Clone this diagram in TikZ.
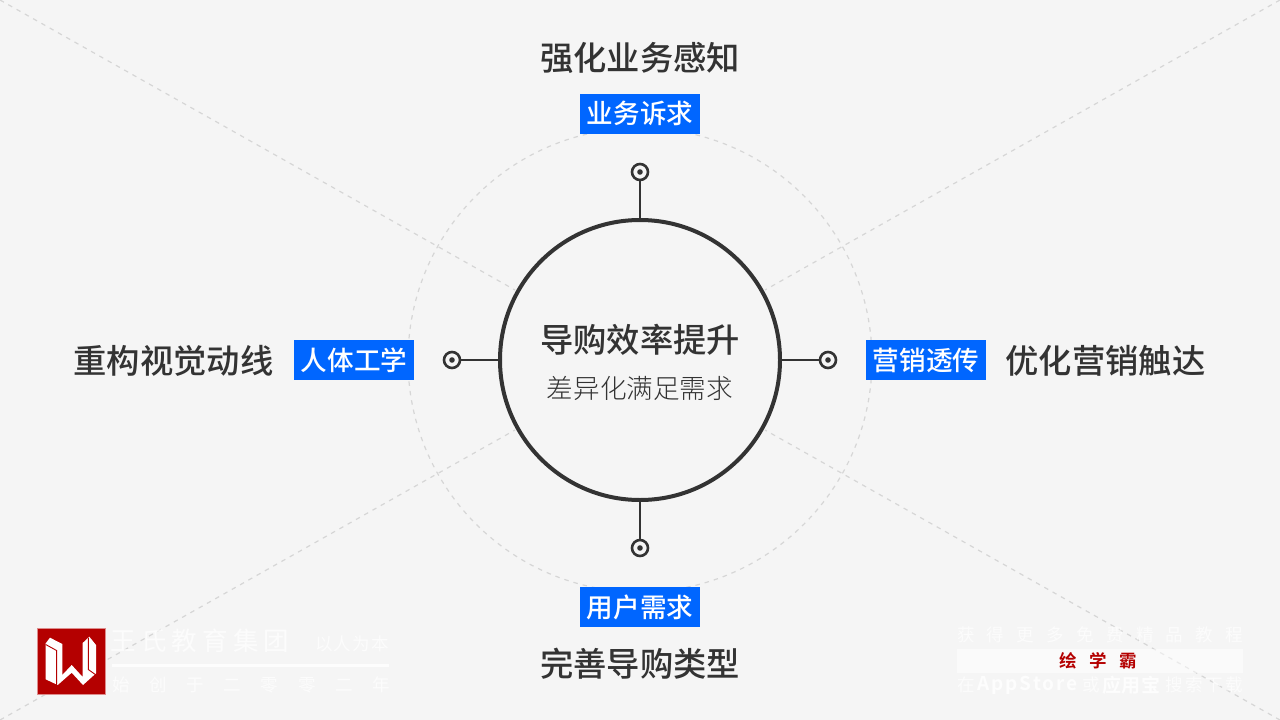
\documentclass[tikz,border=0pt]{standalone}
\usepackage{fontspec}
\setmainfont{Noto Sans CJK SC}[BoldFont={Noto Sans CJK SC Bold}]
\newfontfamily\med{Noto Sans CJK SC Medium}
\newfontfamily\lgt{Noto Sans CJK SC Light}
\definecolor{bg}{HTML}{F5F5F5}
\definecolor{ink}{HTML}{333333}
\definecolor{tagblue}{HTML}{0066FF}
\definecolor{logored}{HTML}{B40000}
\definecolor{dash}{HTML}{D6D6D6}
\tikzset{
  x=1pt,y=-1pt,
  every node/.style={inner sep=0pt,outer sep=0pt,anchor=center},
  titletext/.style={text=ink,font=\med\fontsize{33.3}{36}\selectfont},
  subtext/.style={text=ink,font=\lgt\fontsize{26.6}{30}\selectfont},
  tagbox/.style={fill=tagblue,text=white,minimum width=120pt,minimum height=40pt,font=\med\fontsize{26.6}{30}\selectfont},
  guide/.style={draw=dash,line width=1.2pt,dash pattern=on 4.5pt off 5pt},
  stem/.style={draw=ink,line width=2.8pt},
  ringdot/.style={circle,draw=ink,line width=2.6pt,minimum size=16pt,fill=bg},
  hub/.style={circle,draw=ink,line width=4pt,minimum size=280pt},
  pale/.style={text=white,text opacity=.8},
  smallpale/.style={text=white,text opacity=.7,anchor=west,font=\fontsize{17.5}{18}\selectfont},
  palebold/.style={pale,anchor=west,font=\bfseries\fontsize{19}{20}\selectfont},
}
\newcommand{\spread}[2]{\makebox[#1][s]{#2}}
\newcommand{\up}[1]{\raisebox{2.5pt}{#1}}
\begin{document}
\begin{tikzpicture}
\useasboundingbox (0,0) rectangle (1280,720);
\fill[bg] (0,0) rectangle (1280,720);
% guides
\coordinate (cTL) at (0,0); \coordinate (cTR) at (1280,0);
\coordinate (cBL) at (0,720); \coordinate (cBR) at (1280,720);
\coordinate (eTL) at (515,290); \coordinate (eTR) at (765,290);
\coordinate (eBL) at (515,430); \coordinate (eBR) at (765,430);
\draw[guide] (cTL) -- (eTL);
\draw[guide] (cTR) -- (eTR);
\draw[guide] (cBL) -- (eBL);
\draw[guide] (cBR) -- (eBR);
\draw[guide] (640,360) circle[radius=232];
% hub
\node[hub] (hub) at (640,360) {};
\node[titletext] (hubT) at (640,340) {导购效率提升};
\node[subtext] (hubS) at (640,388) {差异化满足需求};
% ring markers
\node[ringdot] (rT) at (640,172) {};
\node[ringdot] (rB) at (640,548) {};
\node[ringdot] (rL) at (452,360) {};
\node[ringdot] (rR) at (828,360) {};
\foreach \n in {rT,rB,rL,rR} \fill[ink] (\n.center) circle[radius=2.8];
\draw[stem] (rT) -- (hub);
\draw[stem] (rB) -- (hub);
\draw[stem] (rL) -- (hub);
\draw[stem] (rR) -- (hub);
% tags
\node[tagbox] (tT) at (640,114) {\up{业务诉求}};
\node[tagbox] (tB) at (640,607) {\up{用户需求}};
\node[tagbox] (tL) at (354,360) {\up{人体工学}};
\node[tagbox] (tR) at (926,360) {\up{营销透传}};
% titles
\node[titletext] (hT) at (640,58) {强化业务感知};
\node[titletext] (hB) at (640,664) {完善导购类型};
\node[titletext] (hL) at (173.5,361) {重构视觉动线};
\node[titletext] (hR) at (1105.5,361) {优化营销触达};
% logo
\fill[logored,draw=logored!45!white,line width=.5pt] (37,628) rectangle (105,694);
\fill[white] (45.7,643.3) -- (50,637.7) -- (62.3,644) -- (62.3,675) -- (71.7,665) -- (82.7,677) -- (82.7,643) -- (89.3,636.7) -- (96,645) -- (96,673.3) -- (83,685) -- (71.7,672.7) -- (57.7,685) -- (45.7,679.3) -- cycle;
\draw[logored,line width=.9pt] (45.7,644.5) -- (56.6,650.5) -- (56.6,685);
\draw[logored,line width=.9pt] (88.3,637.5) -- (88.3,669.5) -- (96,675);
\node[text=white,text opacity=.7,anchor=west,font=\fontsize{25.5}{28}\selectfont] (l1) at (110.5,640.5) {\spread{179pt}{王\hfill 氏\hfill 教\hfill 育\hfill 集\hfill 团}};
\node[smallpale] (l2) at (315,644) {\spread{74pt}{以\hfill 人\hfill 为\hfill 本}};
\fill[white,opacity=.85] (112,664) rectangle (389,667);
\node[smallpale] (l3) at (112,685) {\spread{278pt}{始\hfill 创\hfill 于\hfill 二\hfill 零\hfill 零\hfill 二\hfill 年}};
% right badge
\node[smallpale] (r1) at (957,635) {\spread{286pt}{获\hfill 得\hfill 更\hfill 多\hfill 免\hfill 费\hfill 精\hfill 品\hfill 教\hfill 程}};
\fill[white,opacity=.5] (957,649) rectangle (1243,673);
\node[text=logored,font=\bfseries\fontsize{17.5}{18}\selectfont] (r2) at (1098,661) {\spread{78pt}{绘\hfill 学\hfill 霸}};
\node[smallpale] (r3a) at (957,685) {在};
\node[palebold] (r3b) at (977,685) {\spread{101pt}{A\hfill p\hfill p\hfill S\hfill t\hfill o\hfill r\hfill e}};
\node[smallpale] (r3c) at (1082,685) {或};
\node[palebold] (r3d) at (1102,685) {\spread{58pt}{应\hfill 用\hfill 宝}};
\node[smallpale] (r3e) at (1165,685) {\spread{78pt}{搜\hfill 索\hfill 下\hfill 载}};
\end{tikzpicture}
\end{document}
